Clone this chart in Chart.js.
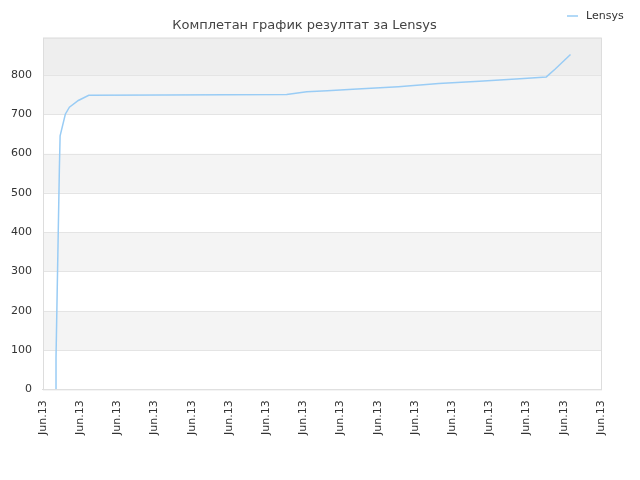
<!DOCTYPE html><html><head><meta charset="utf-8">
<script src="https://cdn.jsdelivr.net/npm/chart.js@4"></script>
<style>body{margin:0;background:#fff}#w{width:640px;height:480px}</style></head><body><div id="w"><canvas id="c"></canvas></div>
<script>
const title="Комплетан график резултат за Lensys";
const seriesName="Lensys";
const tickLabel="Jun.13";
const yTicks=[0,100,200,300,400,500,600,700,800];
const xs=[0.35,0.35,0.38,0.41,0.44,0.46,0.6,0.71,0.95,1.23,3.27,6.55,7.09,7.64,8.45,9.55,10.64,11.73,12.82,13.53,13.77,14.18];
const ys=[0,80,240,400,560,645,700,718,735,748,749,750,757,760,764,770,778,784,790,795,815,852];
const bands={id:'bands',beforeDatasetsDraw(ch){const {ctx,chartArea:a,scales:{y}}=ch;ctx.save();
for(let v=0;v<900;v+=100){let c=v>=800?'#eeeeee':((v/100)%2==1?'#f4f4f4':'#ffffff');
let t=Math.max(y.getPixelForValue(Math.min(v+100,900)),a.top),b=y.getPixelForValue(v);ctx.fillStyle=c;ctx.fillRect(a.left,t,a.right-a.left,b-t);}
ctx.strokeStyle='#e4e4e4';ctx.lineWidth=1;
for(const v of yTicks){const p=Math.round(y.getPixelForValue(v))+0.5;ctx.beginPath();ctx.moveTo(a.left,p);ctx.lineTo(a.right,p);ctx.stroke();}
ctx.strokeStyle='#dddddd';ctx.strokeRect(a.left+0.5,a.top+0.5,a.right-a.left,a.bottom-a.top);ctx.restore();},
afterDraw(ch){const ctx=ch.ctx;ctx.save();ctx.strokeStyle='#99ccf5';ctx.lineWidth=1.5;ctx.beginPath();ctx.moveTo(567,16);ctx.lineTo(578,16);ctx.stroke();
ctx.fillStyle='#333';ctx.font='11px "DejaVu Sans"';ctx.textBaseline='middle';ctx.fillText(seriesName,586,16);ctx.restore();}};
new Chart(document.getElementById('c'),{type:'line',data:{datasets:[{label:seriesName,data:xs.map((x,i)=>({x,y:ys[i]})),borderColor:'#99ccf5',borderWidth:1.5,pointRadius:0,tension:0}]},
options:{animation:false,responsive:true,maintainAspectRatio:false,layout:{padding:{left:8,right:39,top:14,bottom:42}},
plugins:{title:{display:true,text:title,color:'#444',font:{family:'DejaVu Sans',size:13,weight:'normal'},padding:{top:4,bottom:4}},legend:{display:false}},
scales:{x:{type:'linear',min:0,max:15,grid:{display:false},border:{color:'#ddd'},afterBuildTicks:s=>{s.ticks=Array.from({length:16},(_,i)=>({value:i}));},ticks:{autoSkip:false,maxRotation:90,minRotation:90,color:'#333',font:{family:'DejaVu Sans',size:11},callback:()=>tickLabel}},
y:{min:0,max:895,grid:{display:false},border:{display:false},afterBuildTicks:s=>{s.ticks=yTicks.map(v=>({value:v}));},ticks:{autoSkip:false,color:'#333',font:{family:'DejaVu Sans',size:11}}}}},plugins:[bands]});
</script></body></html>
